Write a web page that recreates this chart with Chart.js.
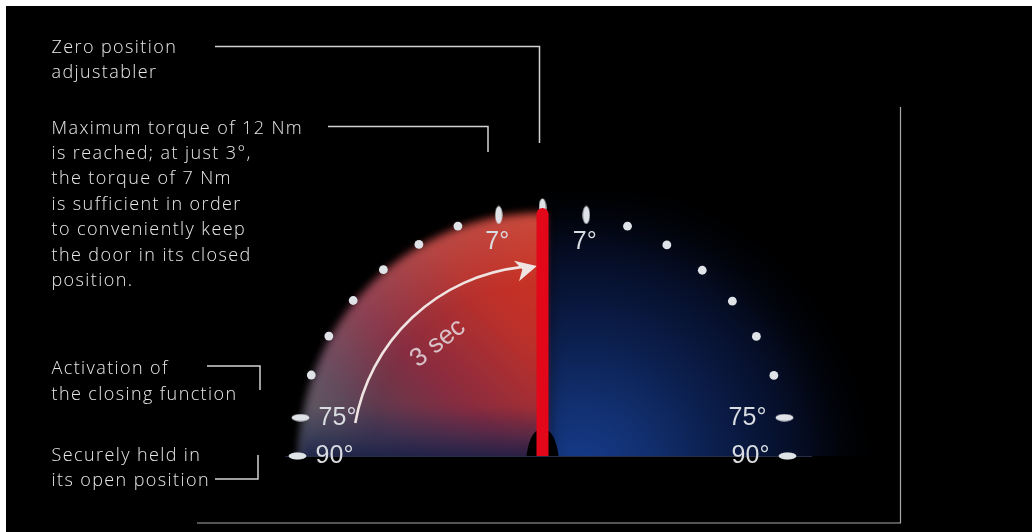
<!DOCTYPE html>
<html>
<head>
<meta charset="utf-8">
<script src="https://cdn.jsdelivr.net/npm/chart.js@4.4.1/dist/chart.umd.min.js"></script>
<style>
  html, body { margin: 0; padding: 0; background: #ffffff; }
  #wrap { position: relative; width: 1032px; height: 532px; }
  canvas { display: block; }
</style>
</head>
<body>
<div id="wrap"><canvas id="c" width="1032" height="532"></canvas></div>
<script>
// ---------------- data ----------------
// marker positions along the swing arc, degrees from the closed (vertical) position
const markerAngles = [-90, -81, -70.7, -60.7, -50.6, -40.5, -30.3, -20.2, -10.3, 0, 10.3, 20.3, 30.5, 40.7, 50.8, 60.8, 70.8, 81, 90];
// distance of each marker from the hinge, in arc radii
const markerReach  = [1, 1, 1, 1, 1, 1, 1, 1, 1, 1.015, 1, 1, 1, 1, 1, 1, 1, 1, 1];
// printed angle labels next to markers
const markerLabels = ['90°', '75°', '', '', '', '', '', '', '7°', '', '7°', '', '', '', '', '', '', '75°', '90°'];
// closed door leaf (red lever): from hinge to this reach
const leverReach = [0, 0.988];
// closing arrow: from / to angle (deg), reach, label
const arrowAngles = [-80, -1.7];
const arrowReach = 0.776;
const arrowLabel = '3 sec';

// annotation texts
const zeroText = ['Zero position', 'adjustabler'];
const torqueText = ['Maximum torque of 12 Nm', 'is reached; at just 3°,', 'the torque of 7 Nm',
  'is sufficient in order', 'to conveniently keep', 'the door in its closed', 'position.'];
const activationText = ['Activation of', 'the closing function'];
const heldText = ['Securely held in', 'its open position'];

// ---------------- layout ----------------
const W = 1032, H = 532;
const CX = 542.5, BASE = 456, R_PX = 245;
const DEG = Math.PI / 180;

const MARK = '#dfe3e8';
const ovalV = (() => {
  const c = document.createElement('canvas');
  c.width = 8; c.height = 19;
  const g = c.getContext('2d');
  g.fillStyle = MARK;
  g.beginPath(); g.ellipse(4, 9.5, 3.6, 9, 0, 0, Math.PI * 2); g.fill();
  return c;
})();

const markerPoints = markerAngles.map((a, i) => ({
  x: Math.sin(a * DEG) * markerReach[i],
  y: Math.cos(a * DEG) * markerReach[i]
}));
const markerStyles = markerAngles.map((a, i) => (markerLabels[i] || a === 0) ? ovalV : 'circle');
const markerTurns = markerAngles.map(a => Math.abs(a) >= 45 ? 90 : 0);

function geo(chart) {
  const x = chart.scales.x, y = chart.scales.y;
  const cx = x.getPixelForValue(0), cy = y.getPixelForValue(0);
  const R = x.getPixelForValue(1) - cx;
  return { cx, cy, R };
}
function polar(g, a, r) {
  return [g.cx + Math.sin(a * DEG) * r * g.R, g.cy - Math.cos(a * DEG) * r * g.R];
}

const backdrop = {
  id: 'backdrop',
  beforeDraw(chart) {
    const ctx = chart.ctx;
    ctx.save();
    ctx.fillStyle = '#ffffff'; ctx.fillRect(0, 0, W, H);
    ctx.fillStyle = '#000000'; ctx.fillRect(6, 6, W - 6, H - 6);
    ctx.restore();
  }
};

const glow = {
  id: 'glow',
  beforeDatasetsDraw(chart) {
    const ctx = chart.ctx;
    const g = geo(chart);
    const { cx, cy, R } = g;
    ctx.save();
    ctx.beginPath(); ctx.rect(0, 0, W, cy); ctx.clip();

    // right (blue) half
    ctx.filter = 'blur(10px)';
    let rg = ctx.createRadialGradient(cx + 40, cy + 15, 0, cx + 40, cy + 15, R * 1.22);
    rg.addColorStop(0, '#173c8e');
    rg.addColorStop(0.25, '#112e6c');
    rg.addColorStop(0.5, '#0a1b46');
    rg.addColorStop(0.75, '#050c22');
    rg.addColorStop(1, 'rgba(0,0,0,0)');
    ctx.fillStyle = rg;
    ctx.beginPath();
    ctx.moveTo(cx, cy + 20);
    ctx.lineTo(cx, cy - R * 1.05);
    ctx.lineTo(cx + R * 1.4, cy - R * 1.05);
    ctx.lineTo(cx + R * 1.4, cy + 20);
    ctx.closePath();
    ctx.fill();

    // left (red) quarter
    ctx.filter = 'blur(4px)';
    const path = new Path2D();
    path.moveTo(cx, cy + 20);
    path.lineTo(cx - R * 0.99, cy + 20);
    path.arc(cx, cy, R * 0.99, Math.PI, Math.PI * 1.5);
    path.lineTo(cx + 2, cy - R * 0.99);
    path.lineTo(cx + 2, cy + 20);
    path.closePath();

    let lg = ctx.createLinearGradient(cx - 5, cy - R * 0.97, cx - R * 0.9, cy - R * 0.05);
    lg.addColorStop(0, '#d6331e');
    lg.addColorStop(0.3, '#bc302a');
    lg.addColorStop(0.6, '#882c40');
    lg.addColorStop(0.85, '#563e52');
    lg.addColorStop(1, '#4a4a52');
    ctx.fillStyle = lg;
    ctx.fill(path);

    // soft lighter rim
    let rim = ctx.createRadialGradient(cx, cy, R * 0.7, cx, cy, R);
    rim.addColorStop(0, 'rgba(160,150,160,0)');
    rim.addColorStop(1, 'rgba(160,150,160,0.25)');
    ctx.fillStyle = rim;
    ctx.fill(path);

    // dark blue floor band
    let fb = ctx.createLinearGradient(0, cy - R * 0.2, 0, cy);
    fb.addColorStop(0, 'rgba(25,32,85,0)');
    fb.addColorStop(0.5, 'rgba(30,36,80,0.42)');
    fb.addColorStop(1, 'rgba(22,30,70,0.85)');
    ctx.fillStyle = fb;
    ctx.fill(path);

    ctx.filter = 'none';
    ctx.restore();

    // floor line
    ctx.save();
    ctx.strokeStyle = 'rgba(70,85,125,0.55)';
    ctx.lineWidth = 1;
    ctx.beginPath(); ctx.moveTo(cx - R * 1.05, cy + 0.5); ctx.lineTo(cx + R * 1.1, cy + 0.5); ctx.stroke();

    // hinge dome
    ctx.fillStyle = '#000000';
    ctx.beginPath();
    ctx.moveTo(cx - 16, cy);
    ctx.bezierCurveTo(cx - 14, cy - 16, cx - 9, cy - 27, cx, cy - 27);
    ctx.bezierCurveTo(cx + 9, cy - 27, cx + 14, cy - 16, cx + 16, cy);
    ctx.closePath();
    ctx.fill();

    // closing arrow
    const ar = arrowReach * R;
    const tip = polar(g, arrowAngles[1], arrowReach);
    const dA = -14 * DEG;
    const d = [Math.cos(dA), Math.sin(dA)];
    const n = [-d[1], d[0]];
    const back = [tip[0] - 21 * d[0], tip[1] - 21 * d[1]];
    const notch = [tip[0] - 15 * d[0], tip[1] - 15 * d[1]];
    ctx.strokeStyle = '#efe4e2';
    ctx.fillStyle = '#efe4e2';
    ctx.lineWidth = 2.6;
    ctx.beginPath();
    ctx.arc(cx, cy, ar, (arrowAngles[0] - 90) * DEG, (-6.5 - 90) * DEG);
    ctx.stroke();
    ctx.beginPath();
    ctx.moveTo(tip[0], tip[1]);
    ctx.lineTo(back[0] + 10.5 * n[0], back[1] + 10.5 * n[1]);
    ctx.lineTo(notch[0], notch[1]);
    ctx.lineTo(back[0] - 10.5 * n[0], back[1] - 10.5 * n[1]);
    ctx.closePath();
    ctx.fill();

    // arrow label
    const lp = polar(g, -42.8, 0.628);
    ctx.translate(lp[0], lp[1]);
    ctx.rotate(-38 * DEG);
    ctx.font = '26px "Liberation Sans", Arial, sans-serif';
    ctx.textAlign = 'center';
    ctx.textBaseline = 'middle';
    ctx.fillStyle = 'rgba(228,218,224,0.85)';
    ctx.fillText(arrowLabel, 0, 0);
    ctx.restore();
  }
};

const notes = {
  id: 'notes',
  afterDatasetsDraw(chart) {
    const ctx = chart.ctx;
    const meta = chart.getDatasetMeta(1);
    ctx.save();
    // degree labels
    ctx.font = '25px "Liberation Sans", Arial, sans-serif';
    ctx.fillStyle = '#d9dde2';
    ctx.textAlign = 'center';
    ctx.textBaseline = 'middle';
    markerLabels.forEach((t, i) => {
      if (!t) return;
      const p = meta.data[i];
      const a = markerAngles[i];
      if (Math.abs(a) >= 45) {
        ctx.fillText(t, p.x - Math.sign(a) * 37, p.y);
      } else {
        ctx.fillText(t, p.x - 1.5, p.y + 27);
      }
    });

    // annotation texts
    ctx.font = '300 18px "Open Sans", sans-serif';
    ctx.letterSpacing = '1.4px';
    ctx.fillStyle = '#e8e8e8';
    ctx.textAlign = 'left';
    ctx.textBaseline = 'alphabetic';
    const block = (lines, y0, step) => lines.forEach((t, i) => ctx.fillText(t, 51.5, y0 + i * step));
    block(zeroText, 52.5, 25);
    block(torqueText, 133.5, 25.45);
    block(activationText, 374, 26);
    block(heldText, 461, 25);
    ctx.letterSpacing = '0px';

    // connector lines
    const poly = (pts, color, w) => {
      ctx.strokeStyle = color; ctx.lineWidth = w;
      ctx.beginPath();
      pts.forEach((p, i) => i ? ctx.lineTo(p[0], p[1]) : ctx.moveTo(p[0], p[1]));
      ctx.stroke();
    };
    const lc = '#d2d2d2';
    poly([[215, 46.5], [539.5, 46.5], [539.5, 143]], lc, 1.5);
    poly([[328, 126.5], [488, 126.5], [488, 152]], lc, 1.5);
    poly([[207, 366], [260, 366], [260, 390]], lc, 1.5);
    poly([[215, 479], [258, 479], [258, 455]], lc, 1.5);
    poly([[900.5, 107], [900.5, 523], [197, 523]], '#a8a8a8', 1.2);
    ctx.restore();
  }
};

new Chart(document.getElementById('c'), {
  type: 'scatter',
  data: {
    datasets: [
      {
        label: 'lever',
        data: leverReach.map(v => ({ x: 0, y: v })),
        showLine: true,
        borderColor: '#e2081a',
        borderWidth: 12,
        borderCapStyle: 'butt',
        pointRadius: [0.1, 6],
        pointBackgroundColor: '#e2081a',
        pointBorderWidth: 0
      },
      {
        label: 'positions',
        data: markerPoints,
        showLine: false,
        pointStyle: markerStyles,
        pointRotation: markerTurns,
        pointRadius: 4.4,
        pointBackgroundColor: MARK,
        pointBorderWidth: 0
      }
    ]
  },
  options: {
    responsive: false,
    animation: false,
    devicePixelRatio: 1,
    layout: { padding: 0, autoPadding: false },
    plugins: { legend: { display: false }, tooltip: { enabled: false } },
    events: [],
    scales: {
      x: { type: 'linear', display: false, min: -CX / R_PX, max: (W - CX) / R_PX },
      y: { type: 'linear', display: false, min: -(H - BASE) / R_PX, max: BASE / R_PX }
    }
  },
  plugins: [backdrop, glow, notes]
});
</script>
</body>
</html>
